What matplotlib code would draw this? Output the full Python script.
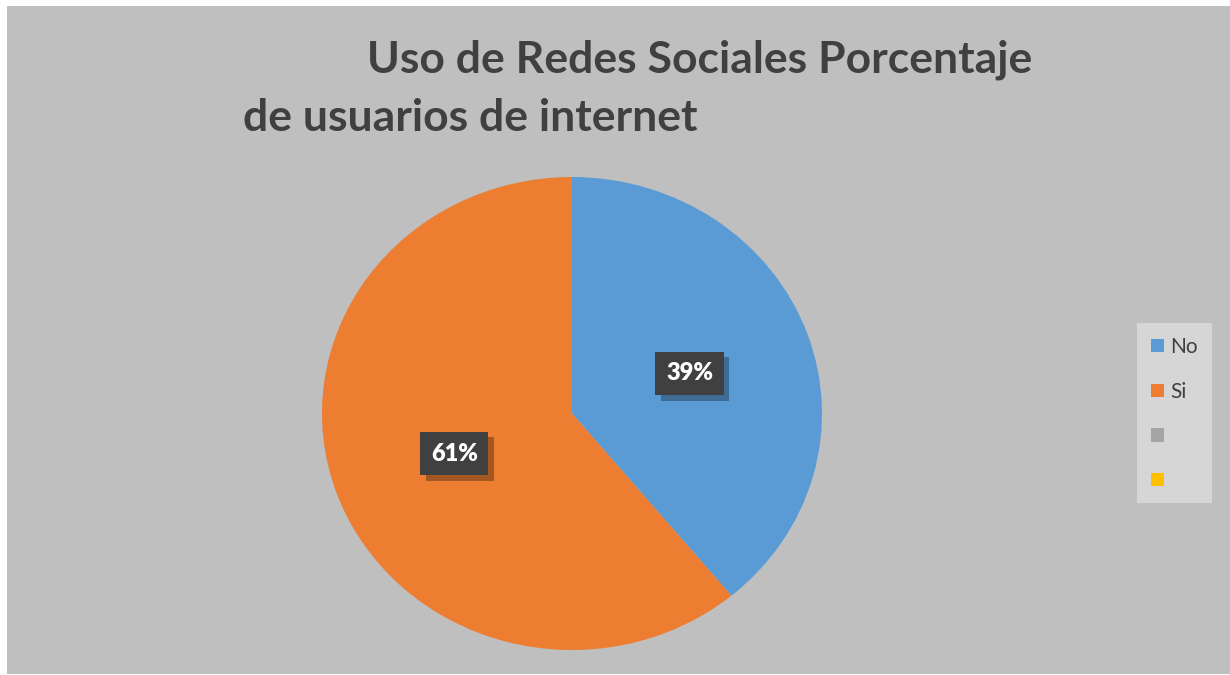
import matplotlib.pyplot as plt
from matplotlib.patches import Rectangle, Patch
import matplotlib.patheffects as pe

categories = ["No", "Si", "", ""]
values = [39, 61, 0, 0]
colors = ["#5B9BD5", "#ED7D31", "#A5A5A5", "#FFC000"]
title1 = "Uso de Redes Sociales Porcentaje"
title2 = "de usuarios de internet"

W, H = 1230, 675
fig = plt.figure(figsize=(W / 100, H / 100), dpi=100, facecolor="white")

# gray chart area
fig.patches.append(Rectangle((7 / W, 1 - 674 / H), (1230 - 7) / W, (674 - 6) / H,
                             transform=fig.transFigure, facecolor="#BFBFBF",
                             edgecolor="none", zorder=-5))

fig.text(367 / W, 1 - 73 / H, title1, fontsize=32, fontweight="bold",
         color="#404040", family="Lato", ha="left", va="baseline")
fig.text(243 / W, 1 - 131 / H, title2, fontsize=32, fontweight="bold",
         color="#404040", family="Lato", ha="left", va="baseline")

# pie axes (slightly stretched horizontally, like the source)
ax = fig.add_axes([322 / W, 1 - 650 / H, 500 / W, 473 / H])
ax.set_facecolor("none")
nz = [(v, c) for v, c in zip(values, colors) if v > 0]
wedges, texts, autotexts = ax.pie([v for v, c in nz], colors=[c for v, c in nz],
                                  startangle=90, counterclock=False,
                                  autopct="%d%%", pctdistance=0.5,
                                  textprops=dict(family="Lato", fontsize=17,
                                                 fontweight="heavy", color="white"))
ax.set_aspect("auto")
ax.set_xlim(-1, 1)
ax.set_ylim(-1, 1)
ax.axis("off")

for t in autotexts:
    t.set_bbox(dict(boxstyle="square,pad=0.45", facecolor="#404040", edgecolor="none"))
    t.get_bbox_patch().set_path_effects([
        pe.SimplePatchShadow(offset=(4, -4), shadow_rgbFace="black", alpha=0.3),
        pe.Normal()])
    t.set_zorder(5)

# legend
fig.patches.append(Rectangle((1137 / W, 1 - 503 / H), 75 / W, 180 / H,
                             transform=fig.transFigure, facecolor="#D6D6D6",
                             edgecolor="none", zorder=1))
handles = [Patch(facecolor=c, edgecolor="none") for c in colors]
leg = fig.legend(handles, categories, loc="upper left",
                 bbox_to_anchor=(1151 / W, 1 - 337 / H), frameon=False,
                 prop=dict(family="Lato", size=15), labelcolor="#404040",
                 handlelength=0.62, handleheight=0.62, handletextpad=0.3,
                 labelspacing=1.18, borderpad=0, borderaxespad=0)
leg.set_zorder(2)

fig.savefig("out.png", dpi=100, facecolor="white")
